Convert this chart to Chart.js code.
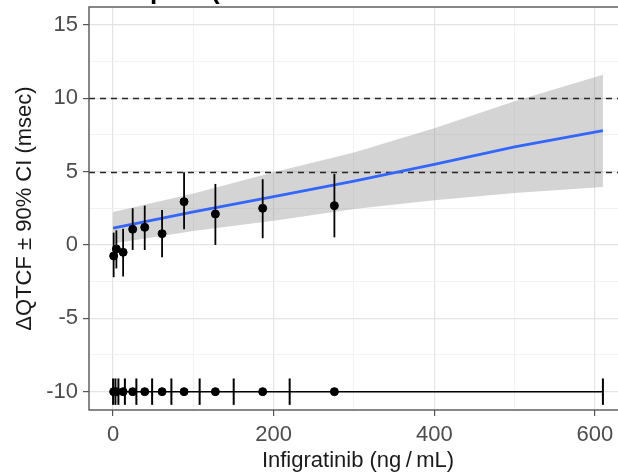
<!DOCTYPE html>
<html>
<head>
<meta charset="utf-8">
<script src="https://cdn.jsdelivr.net/npm/chart.js@4.4.1/dist/chart.umd.min.js"></script>
<style>
html, body { margin: 0; padding: 0; background: #fff; overflow: hidden; }
canvas { display: block; }
</style>
</head>
<body>
<canvas id="grafikQT" width="640" height="474"></canvas>
<script>
// Konsentrasi median per bin dan rerata dQTcF dengan 90% CI
const binMedian = [0.7, 4.1, 12.5, 24.4, 39.4, 61, 88.4, 127.4, 186.3, 275.6];
const dqtcf     = [-0.75, -0.27, -0.5, 1.07, 1.2, 0.77, 2.95, 2.11, 2.5, 2.68];
const ciLow     = [-2.2, -1.6, -2.15, -0.34, -0.34, -0.84, 1.07, 0.0, 0.46, 0.52];
const ciHigh    = [0.84, 1.0, 1.1, 2.5, 2.68, 2.39, 4.95, 4.16, 4.48, 4.84];

// Batas bin konsentrasi (garis tegak pada rug di bawah)
const binEdges = [0, 2.9, 6.6, 14.7, 29, 48.6, 72.6, 107.8, 150.2, 219.9, 610];

// Garis model linear dan pita kepercayaan 90%
const fitConc  = [0, 100, 200, 300, 400, 500, 610];
const fitLine  = [1.14, 2.25, 3.3, 4.35, 5.5, 6.68, 7.79];
const fitUpper = [2.25, 3.5, 4.95, 6.3, 7.95, 9.8, 11.6];
const fitLower = [0.1, 0.95, 1.65, 2.45, 3.05, 3.55, 3.95];

const refLines = [5, 10];
const rugLevel = -10;

const xTickLabels = [0, 200, 400, 600];
const xMinorGrid  = [100, 300, 500];
const yTickLabels = [-10, -5, 0, 5, 10, 15];
const yMinorGrid  = [-7.5, -2.5, 2.5, 7.5, 12.5];

const hurufDasar = "'Liberation Sans', Arial, sans-serif";

const titik = (xs, ys) => xs.map((x, i) => ({ x: x, y: ys[i] }));

// Menggambar elemen tambahan: garis putus-putus, error bar, rug, bingkai panel
const gambarTambahan = {
  id: 'gambarTambahan',
  afterDatasetDraw(chart, args) {
    if (args.index !== 4) return; // tepat setelah pita abu-abu
    const ctx = chart.ctx;
    const area = chart.chartArea;
    const sy = chart.scales.y;
    ctx.save();
    ctx.strokeStyle = '#262626';
    ctx.lineWidth = 1.5;
    ctx.setLineDash([6, 5]);
    refLines.forEach(v => {
      const py = Math.round(sy.getPixelForValue(v)) + 0.5;
      ctx.beginPath();
      ctx.moveTo(area.left, py);
      ctx.lineTo(area.right, py);
      ctx.stroke();
    });
    ctx.restore();
  },
  afterDatasetsDraw(chart) {
    const ctx = chart.ctx;
    const sx = chart.scales.x;
    const sy = chart.scales.y;
    ctx.save();
    ctx.strokeStyle = '#000';
    ctx.lineWidth = 1.8;
    // error bar 90% CI
    binMedian.forEach((c, i) => {
      const px = sx.getPixelForValue(c);
      ctx.beginPath();
      ctx.moveTo(px, sy.getPixelForValue(ciLow[i]));
      ctx.lineTo(px, sy.getPixelForValue(ciHigh[i]));
      ctx.stroke();
    });
    // batas bin pada rug
    ctx.lineWidth = 2;
    binEdges.forEach(c => {
      const px = sx.getPixelForValue(c);
      ctx.beginPath();
      ctx.moveTo(px, sy.getPixelForValue(rugLevel + 0.9));
      ctx.lineTo(px, sy.getPixelForValue(rugLevel - 0.9));
      ctx.stroke();
    });
    ctx.restore();
  },
  afterDraw(chart) {
    const ctx = chart.ctx;
    const area = chart.chartArea;
    ctx.save();
    ctx.strokeStyle = '#555';
    ctx.lineWidth = 1.4;
    ctx.strokeRect(area.left, area.top, area.right - area.left, area.bottom - area.top);
    // sisa judul yang terpotong di tepi atas
    ctx.fillStyle = '#000';
    ctx.font = "bold 26px " + hurufDasar;
    ctx.textBaseline = 'alphabetic';
    ctx.fillText('p', 150, -1);
    ctx.fillText('(', 211, -1);
    ctx.restore();
  }
};

const warnaGrid = (daftarUtama) => (c) =>
  daftarUtama.includes(c.tick.value) ? '#e4e4e4' : '#efefef';

new Chart(document.getElementById('grafikQT'), {
  type: 'scatter',
  data: {
    datasets: [
      {
        data: titik(binMedian, dqtcf),
        backgroundColor: '#000', borderColor: '#000',
        pointRadius: 4, pointHoverRadius: 4
      },
      {
        data: binMedian.map(c => ({ x: c, y: rugLevel })),
        backgroundColor: '#000', borderColor: '#000',
        pointRadius: 4, pointHoverRadius: 4
      },
      {
        data: [{ x: binEdges[0], y: rugLevel }, { x: binEdges[binEdges.length - 1], y: rugLevel }],
        showLine: true, borderColor: '#000', borderWidth: 1.5, pointRadius: 0
      },
      {
        data: titik(fitConc, fitLine),
        showLine: true, borderColor: '#3366FF', borderWidth: 2.8, pointRadius: 0
      },
      {
        data: titik(fitConc, fitUpper),
        showLine: true, borderWidth: 0, pointRadius: 0,
        fill: '+1', backgroundColor: 'rgba(153,153,153,0.42)'
      },
      {
        data: titik(fitConc, fitLower),
        showLine: true, borderWidth: 0, pointRadius: 0
      }
    ]
  },
  options: {
    responsive: false,
    animation: false,
    events: [],
    layout: { padding: { top: 7, right: 13, left: 0, bottom: 0 } },
    plugins: { legend: { display: false }, tooltip: { enabled: false } },
    scales: {
      x: {
        type: 'linear', min: -30, max: 640,
        afterBuildTicks: s => {
          s.ticks = xTickLabels.concat(xMinorGrid).sort((a, b) => a - b).map(v => ({ value: v }));
        },
        afterFit: s => { s.height = 64; s.paddingLeft = 0; s.paddingRight = 0; },
        ticks: {
          autoSkip: false, maxRotation: 0, padding: 6,
          color: '#4d4d4d', font: { family: hurufDasar, size: 22 },
          callback: v => xTickLabels.includes(v) ? String(v) : ''
        },
        grid: {
          color: warnaGrid(xTickLabels),
          lineWidth: c => xTickLabels.includes(c.tick.value) ? 1.2 : 0.8,
          tickColor: c => xTickLabels.includes(c.tick.value) ? '#555' : 'rgba(0,0,0,0)',
          tickLength: 6
        },
        border: { display: false },
        title: {
          display: true, text: 'Infigratinib (ng\u2009/\u2009mL)', color: '#1a1a1a',
          font: { family: hurufDasar, size: 22 }, padding: { top: 0, bottom: 0 }
        }
      },
      y: {
        type: 'linear', min: -11.25, max: 16.22,
        afterBuildTicks: s => {
          s.ticks = yTickLabels.concat(yMinorGrid).sort((a, b) => a - b).map(v => ({ value: v }));
        },
        afterFit: s => { s.width = 89; s.paddingTop = 0; s.paddingBottom = 0; },
        ticks: {
          autoSkip: false, padding: 5,
          color: '#4d4d4d', font: { family: hurufDasar, size: 22 },
          callback: v => yTickLabels.includes(v) ? String(v) : ''
        },
        grid: {
          color: warnaGrid(yTickLabels),
          lineWidth: c => yTickLabels.includes(c.tick.value) ? 1.2 : 0.8,
          tickColor: c => yTickLabels.includes(c.tick.value) ? '#555' : 'rgba(0,0,0,0)',
          tickLength: 6
        },
        border: { display: false },
        title: {
          display: true, text: 'ΔQTCF ± 90% CI (msec)', color: '#1a1a1a',
          font: { family: hurufDasar, size: 22 }, padding: { top: 12, bottom: 0 }
        }
      }
    }
  },
  plugins: [gambarTambahan]
});
</script>
</body>
</html>
